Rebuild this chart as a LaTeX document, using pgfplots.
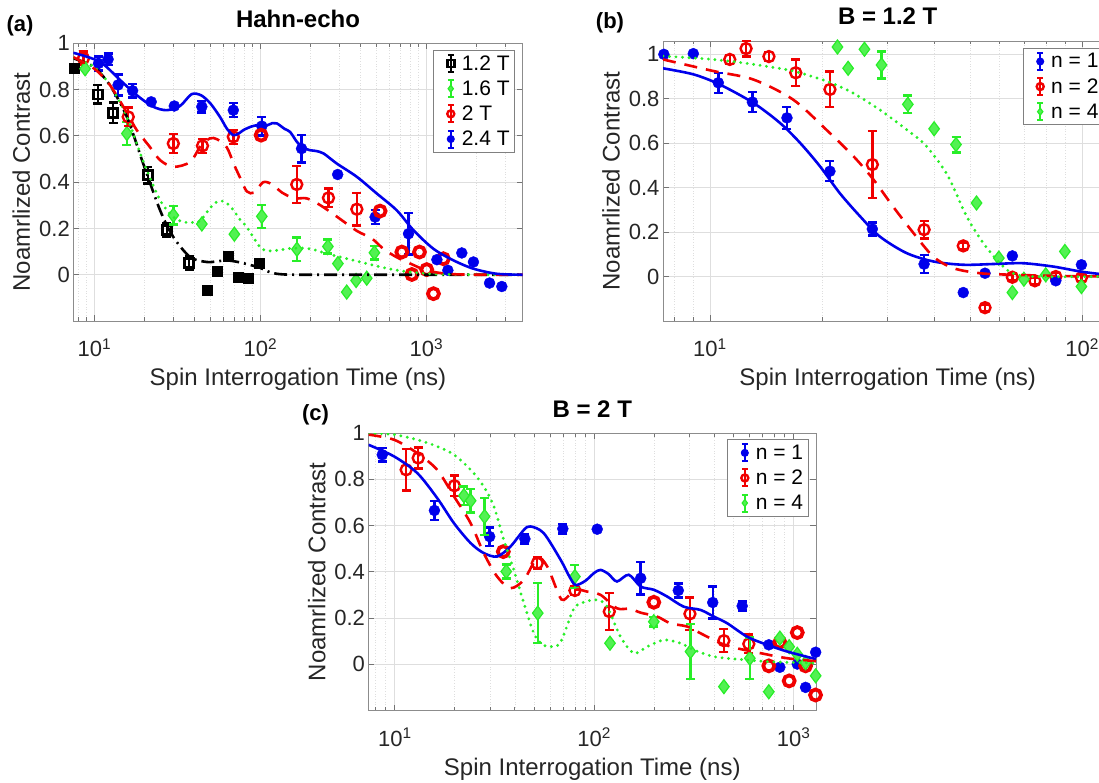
\documentclass[border=0pt]{standalone}
\usepackage{fontspec}
\setmainfont{Liberation Sans}
\usepackage{pgfplots}
\pgfplotsset{compat=1.18}
\definecolor{mblue}{RGB}{0,0,235}
\definecolor{mred}{RGB}{240,0,0}
\definecolor{mgreen}{RGB}{40,238,40}
\pgfplotsset{
  myeb/.style={only marks,
    error bars/y dir=both, error bars/y explicit,
    error bars/error bar style={line width=2.4pt},
    error bars/error mark options={rotate=90, line width=2.4pt, mark size=4.5pt}},
  mbluem/.style={color=mblue, mark=*, mark size=5.5pt},
  mredo/.style={color=mred, mark=o, mark size=5.5pt, mark options={line width=2.4pt}},
  mredf/.style={color=mred, mark=o, mark size=5.5pt, mark options={line width=3.8pt}},
  mgreend/.style={color=mgreen, mark=diamond*, mark size=7pt, mark options={fill=mgreen!80!white, draw=mgreen, line width=1.2pt}},
  mblacko/.style={color=black, mark=square, mark size=4.5pt, mark options={line width=2.6pt}},
  mblackf/.style={color=black, mark=square*, mark size=5pt},
  mbluec/.style={mblue, line width=2.6pt, smooth, no markers},
  mredc/.style={mred, line width=2.6pt, dash pattern=on 13pt off 9pt, smooth, no markers},
  mgreenc/.style={mgreen, line width=3.2pt, dash pattern=on 0pt off 6.5pt, line cap=round, smooth, no markers},
  mblackc/.style={black, line width=2.6pt, dash pattern=on 13pt off 5pt on 2pt off 5pt, smooth, no markers},
}
\begin{document}
\begin{tikzpicture}
% ---------------- (a) ----------------
\begin{axis}[at={(73.3pt,461pt)}, anchor=south west,
    xmode=log, scale only axis, width=449.4pt, height=277.7pt,
    ymin=-0.2, ymax=1,
    ytick={0,0.2,0.4,0.6,0.8,1},
    grid=both,
    major grid style={black!13, line width=0.8pt},
    minor grid style={black!13, line width=0.7pt, dotted},
    axis line style={black!45, line width=0.9pt},
    tick style={black!55, line width=0.8pt},
    major tick length=6pt, minor tick length=3.5pt,
    tick align=inside,
    ticklabel style={font=\fontsize{22}{26}\selectfont, text=black!85},
    yticklabel style={/pgf/number format/assume math mode=true},
    xticklabel style={anchor=base, yshift=-36pt},
    label style={font=\fontsize{24}{28}\selectfont, text=black!85},
    ylabel={Noamrlized Contrast},
    xlabel={Spin Interrogation Time (ns)},
    ylabel style={at={(axis description cs:-0.1157,0.5)}, anchor=center},
    xlabel style={at={(axis description cs:0.5,0)}, anchor=base, yshift=-65pt},
    title style={font=\bfseries\fontsize{24}{28}\selectfont, at={(axis description cs:0.5,1)}, anchor=base, yshift=10pt},
    clip mode=individual,
    legend cell align=left,
    legend style={draw=black!50, line width=1pt, fill=white,
      font=\fontsize{21}{24}\selectfont, inner xsep=3pt, inner ysep=3pt,
      row sep=5pt, column sep=2pt},
    legend image code/.code={
      \path[draw=none, fill=none] (0pt,-10pt) rectangle (21pt,10pt);
      \draw[#1, mark=none, solid, line width=2pt] (14pt,-8.5pt) -- (14pt,8.5pt)
        (11pt,-8.5pt) -- (17pt,-8.5pt) (11pt,8.5pt) -- (17pt,8.5pt);
      \draw[#1, mark size=3.5pt] plot coordinates {(14pt,0pt)};
    },
  xmin=7.47, xmax=3800,
  xtick={10,100,1000}, xticklabels={10\textsuperscript{1},10\textsuperscript{2},10\textsuperscript{3}},
  minor xtick={8,9,20,30,40,50,60,70,80,90,200,300,400,500,600,700,800,900,2000,3000},
  title={Hahn-echo},
  legend style={at={(axis description cs:0.801,0.976)}, anchor=north west}]
\addplot[mblacko, myeb] coordinates {(10.5,0.779) +- (0,0.04) (13.0,0.700) +- (0,0.045) (21.0,0.430) +- (0,0.035) (27.3,0.192) +- (0,0.03) (37.3,0.050) +- (0,0.03)};
\addlegendentry{1.2 T}
\addplot[mgreend, myeb] coordinates {(15.7,0.61) +- (0,0.05) (29.9,0.257) +- (0,0.04) (102,0.252) +- (0,0.05) (166,0.11) +- (0,0.05) (255,0.122) +- (0,0.03) (486,0.095) +- (0,0.03)};
\addlegendentry{1.6 T}
\addplot[mredo, myeb] coordinates {(8.6,0.935) +- (0,0.03) (16.0,0.682) +- (0,0.04) (29.9,0.567) +- (0,0.04) (44.8,0.557) +- (0,0.03) (68.7,0.596) +- (0,0.03) (165.6,0.39) +- (0,0.08) (257,0.332) +- (0,0.04) (381,0.283) +- (0,0.07)};
\addlegendentry{2 T}
\addplot[mbluem, myeb] coordinates {(10.6,0.913) +- (0,0.03) (12.1,0.931) +- (0,0.025) (13.9,0.82) +- (0,0.045) (17.0,0.795) +- (0,0.03) (44.4,0.726) +- (0,0.025) (68.7,0.711) +- (0,0.03) (102,0.642) +- (0,0.04) (177,0.545) +- (0,0.06) (491,0.249) +- (0,0.03) (780,0.177) +- (0,0.09)};
\addlegendentry{2.4 T}
\addplot[mblackf, only marks, forget plot] coordinates {(7.55,0.892) (47.5,-0.065) (54.6,0.016) (64.1,0.079) (73.6,-0.010) (83.9,-0.015) (98.6,0.048)};
\addplot[mgreend, only marks, forget plot] coordinates {(8.8,0.89) (44.4,0.219) (69.7,0.175) (293,0.048) (331,-0.075) (377,-0.025) (437,-0.015)};
\addplot[mredf, only marks, forget plot] coordinates {(101,0.603) (526,0.275) (711,0.098) (817,0.001) (908,0.098) (1004,0.022) (1102,-0.082) (1265,0.069)};
\addplot[mbluem, only marks, forget plot] coordinates {(22.0,0.747) (30.3,0.729) (292,0.433) (1156,0.065) (1346,0.019) (1633,0.094) (1919,0.055) (2399,-0.036) (2844,-0.051)};
\addplot[mblackc, forget plot] coordinates {(7.47,0.935) (9.86,0.899) (12.4,0.819) (15.7,0.682) (19.7,0.48) (24.9,0.278) (29.9,0.163) (37.8,0.076) (47.5,0.055) (55,0.058) (62.8,0.062) (72,0.056) (82.8,0.046) (99.5,0.030) (112,0.013) (125.6,0.004) (160,0.0) (400,0) (3800,0)};
\addplot[mgreenc, forget plot] coordinates {(7.47,0.935) (9.86,0.9) (12.4,0.82) (15.7,0.682) (19.7,0.49) (24.9,0.322) (29.9,0.249) (34.4,0.228) (39,0.226) (43.3,0.232) (50,0.29) (55.8,0.318) (62,0.312) (68.7,0.28) (75,0.24) (82.8,0.206) (99.5,0.119) (112,0.103) (125.6,0.105) (150,0.113) (180,0.115) (210,0.108) (251,0.091) (330,0.07) (437,0.048) (600,0.025) (836,0.01) (1200,0.002) (2000,0) (3800,0)};
\addplot[mredc, forget plot] coordinates {(7.47,0.94) (10,0.89) (12.4,0.82) (15.7,0.70) (18,0.625) (21.6,0.552) (24.9,0.495) (29.9,0.466) (37.8,0.487) (43.3,0.552) (49.6,0.589) (55,0.585) (62.8,0.55) (69,0.48) (75.4,0.42) (82.8,0.36) (92,0.355) (104,0.40) (118,0.39) (135,0.355) (160,0.33) (190,0.33) (230,0.30) (290,0.25) (380,0.19) (470,0.156) (550,0.112) (660,0.076) (800,0.048) (1000,0.019) (1330,0.004) (2000,0) (3800,0)};
\addplot[mbluec, forget plot] coordinates {(7.47,0.959) (10.8,0.92) (14.3,0.841) (18,0.776) (22.6,0.726) (27.3,0.711) (32.8,0.729) (38.5,0.78) (44,0.775) (50,0.74) (57.1,0.682) (63,0.63) (68.7,0.603) (74,0.61) (79,0.625) (88,0.64) (95,0.646) (102,0.652) (109,0.645) (118,0.655) (125.6,0.654) (140,0.63) (151,0.617) (166,0.574) (180,0.55) (199,0.538) (215,0.535) (240,0.524) (289,0.48) (381,0.423) (502,0.351) (663,0.278) (836,0.192) (1102,0.112) (1455,0.062) (1919,0.026) (2655,0.004) (3800,0)};
\end{axis}
% ---------------- (b) ----------------
\begin{axis}[at={(663pt,461pt)}, anchor=south west,
    xmode=log, scale only axis, width=449.4pt, height=280pt,
    ymin=-0.2, ymax=1.06,
    ytick={0,0.2,0.4,0.6,0.8,1},
    grid=both,
    major grid style={black!13, line width=0.8pt},
    minor grid style={black!13, line width=0.7pt, dotted},
    axis line style={black!45, line width=0.9pt},
    tick style={black!55, line width=0.8pt},
    major tick length=6pt, minor tick length=3.5pt,
    tick align=inside,
    ticklabel style={font=\fontsize{22}{26}\selectfont, text=black!85},
    yticklabel style={/pgf/number format/assume math mode=true},
    xticklabel style={anchor=base, yshift=-36pt},
    label style={font=\fontsize{24}{28}\selectfont, text=black!85},
    ylabel={Noamrlized Contrast},
    xlabel={Spin Interrogation Time (ns)},
    ylabel style={at={(axis description cs:-0.1157,0.5)}, anchor=center},
    xlabel style={at={(axis description cs:0.5,0)}, anchor=base, yshift=-65pt},
    title style={font=\bfseries\fontsize{24}{28}\selectfont, at={(axis description cs:0.5,1)}, anchor=base, yshift=10pt},
    clip mode=individual,
    legend cell align=left,
    legend style={draw=black!50, line width=1pt, fill=white,
      font=\fontsize{21}{24}\selectfont, inner xsep=3pt, inner ysep=3pt,
      row sep=5pt, column sep=2pt},
    legend image code/.code={
      \path[draw=none, fill=none] (0pt,-10pt) rectangle (21pt,10pt);
      \draw[#1, mark=none, solid, line width=2pt] (14pt,-8.5pt) -- (14pt,8.5pt)
        (11pt,-8.5pt) -- (17pt,-8.5pt) (11pt,8.5pt) -- (17pt,8.5pt);
      \draw[#1, mark size=3.5pt] plot coordinates {(14pt,0pt)};
    },
  xmin=7.48, xmax=120.5,
  xtick={10,100}, xticklabels={10\textsuperscript{1},10\textsuperscript{2}},
  minor xtick={8,9,20,30,40,50,60,70,80,90},
  title={B = 1.2 T},
  legend style={at={(axis description cs:0.8004,0.975)}, anchor=north west}]
\addplot[mbluem, myeb] coordinates {(10.53,0.872) +- (0,0.045) (13.0,0.785) +- (0,0.045) (16.1,0.714) +- (0,0.05) (21.0,0.474) +- (0,0.045) (27.3,0.214) +- (0,0.03) (37.6,0.056) +- (0,0.04)};
\addlegendentry{n = 1}
\addplot[mredo, myeb] coordinates {(11.3,0.977) +- (0,0.02) (12.5,1.026) +- (0,0.035) (14.4,0.99) +- (0,0.02) (17.0,0.917) +- (0,0.06) (21.0,0.842) +- (0,0.08) (27.3,0.504) +- (0,0.15) (37.6,0.211) +- (0,0.04) (47.9,0.138) +- (0,0.015) (54.8,-0.14) +- (0,0.015) (64.9,-0.003) +- (0,0.015) (74.6,-0.019) +- (0,0.015) (84.9,0.0) +- (0,0.015) (99.5,-0.005) +- (0,0.015)};
\addlegendentry{n = 2}
\addplot[mgreend, myeb] coordinates {(28.9,0.952) +- (0,0.06) (34.0,0.775) +- (0,0.04) (45.8,0.594) +- (0,0.035)};
\addlegendentry{n = 4}
\addplot[mbluem, only marks, forget plot] coordinates {(7.52,1.0) (9.02,1.003) (47.9,-0.072) (54.8,0.015) (64.9,0.093) (84.9,-0.019) (99.5,0.053)};
\addplot[mgreend, only marks, forget plot] coordinates {(22.0,1.033) (23.5,0.937) (26.0,1.023) (40.0,0.665) (52.0,0.331) (59.7,0.083) (64.9,-0.072) (69.7,-0.012) (79.8,0.008) (89.8,0.113) (99.5,-0.045)};
\addplot[mbluec, forget plot] coordinates {(7.48,0.937) (9.02,0.91) (10.6,0.865) (13.06,0.782) (15.4,0.692) (17.45,0.602) (19.75,0.496) (22.3,0.376) (25.3,0.271) (28.6,0.18) (33.7,0.106) (39.8,0.068) (47.9,0.053) (58.9,0.057) (69.4,0.06) (83.5,0.045) (98.6,0.023) (111,0.012) (120.5,0.008)};
\addplot[mredc, forget plot] coordinates {(7.48,0.977) (10.2,0.925) (13.06,0.887) (16.7,0.797) (20.5,0.662) (24.3,0.541) (27.5,0.436) (31,0.316) (35.2,0.196) (39.8,0.09) (45,0.038) (53.1,0.015) (65,0.008) (90,0.002) (120.5,0.0)};
\addplot[mgreenc, forget plot] coordinates {(7.48,0.992) (10.2,0.977) (13.06,0.955) (16.7,0.925) (20.5,0.88) (22.3,0.855) (24.3,0.825) (28.6,0.75) (33.7,0.662) (37.4,0.602) (41,0.52) (44.1,0.436) (48.9,0.271) (54.2,0.151) (60.1,0.06) (65,0.015) (74,0.0) (120.5,0.0)};
\end{axis}
% ---------------- (c) ----------------
\begin{axis}[at={(368.5pt,71.5pt)}, anchor=south west,
    xmode=log, scale only axis, width=447.5pt, height=277.5pt,
    ymin=-0.2, ymax=1,
    ytick={0,0.2,0.4,0.6,0.8,1},
    grid=both,
    major grid style={black!13, line width=0.8pt},
    minor grid style={black!13, line width=0.7pt, dotted},
    axis line style={black!45, line width=0.9pt},
    tick style={black!55, line width=0.8pt},
    major tick length=6pt, minor tick length=3.5pt,
    tick align=inside,
    ticklabel style={font=\fontsize{22}{26}\selectfont, text=black!85},
    yticklabel style={/pgf/number format/assume math mode=true},
    xticklabel style={anchor=base, yshift=-36pt},
    label style={font=\fontsize{24}{28}\selectfont, text=black!85},
    ylabel={Noamrlized Contrast},
    xlabel={Spin Interrogation Time (ns)},
    ylabel style={at={(axis description cs:-0.1157,0.5)}, anchor=center},
    xlabel style={at={(axis description cs:0.5,0)}, anchor=base, yshift=-65pt},
    title style={font=\bfseries\fontsize{24}{28}\selectfont, at={(axis description cs:0.5,1)}, anchor=base, yshift=10pt},
    clip mode=individual,
    legend cell align=left,
    legend style={draw=black!50, line width=1pt, fill=white,
      font=\fontsize{21}{24}\selectfont, inner xsep=3pt, inner ysep=3pt,
      row sep=5pt, column sep=2pt},
    legend image code/.code={
      \path[draw=none, fill=none] (0pt,-10pt) rectangle (21pt,10pt);
      \draw[#1, mark=none, solid, line width=2pt] (14pt,-8.5pt) -- (14pt,8.5pt)
        (11pt,-8.5pt) -- (17pt,-8.5pt) (11pt,8.5pt) -- (17pt,8.5pt);
      \draw[#1, mark size=3.5pt] plot coordinates {(14pt,0pt)};
    },
  xmin=7.38, xmax=1295,
  xtick={10,100,1000}, xticklabels={10\textsuperscript{1},10\textsuperscript{2},10\textsuperscript{3}},
  minor xtick={8,9,20,30,40,50,60,70,80,90,200,300,400,500,600,700,800,900},
  title={B = 2 T},
  legend style={at={(axis description cs:0.8018,0.977)}, anchor=north west}]
\addplot[mbluem, myeb] coordinates {(8.65,0.906) +- (0,0.03) (15.8,0.665) +- (0,0.04) (29.9,0.552) +- (0,0.04) (44.9,0.542) +- (0,0.02) (69.6,0.586) +- (0,0.02) (171,0.372) +- (0,0.07) (264,0.319) +- (0,0.03) (393,0.267) +- (0,0.07) (552,0.252) +- (0,0.02)};
\addlegendentry{n = 1}
\addplot[mredo, myeb] coordinates {(11.4,0.841) +- (0,0.09) (13.1,0.892) +- (0,0.045) (19.9,0.772) +- (0,0.045) (51.8,0.437) +- (0,0.025) (80,0.319) +- (0,0.02) (119,0.228) +- (0,0.08) (302,0.218) +- (0,0.07) (447,0.102) +- (0,0.05) (596,0.088) +- (0,0.04)};
\addlegendentry{n = 2}
\addplot[mgreend, myeb] coordinates {(22.2,0.729) +- (0,0.04) (24.0,0.707) +- (0,0.05) (28.2,0.639) +- (0,0.08) (36.2,0.401) +- (0,0.03) (52.1,0.221) +- (0,0.13) (80,0.379) +- (0,0.05) (199,0.184) +- (0,0.02) (304,0.055) +- (0,0.12) (603,0.026) +- (0,0.09)};
\addlegendentry{n = 4}
\addplot[mbluem, only marks, forget plot] coordinates {(103.5,0.584) (751,0.084) (853,-0.013) (1043,0.001) (1148,-0.1) (1290,0.052)};
\addplot[mredf, only marks, forget plot] coordinates {(35.0,0.487) (199,0.268) (751,-0.007) (853,0.095) (950,-0.072) (1043,0.137) (1148,-0.007) (1288,-0.133)};
\addplot[mgreend, only marks, forget plot] coordinates {(120,0.091) (447,-0.097) (751,-0.119) (853,0.113) (950,0.076) (1043,0.043) (1148,0.007) (1290,-0.05)};
\addplot[mbluec, forget plot] coordinates {(7.38,0.949) (9.9,0.899) (12.95,0.827) (16.3,0.719) (19.8,0.61) (24.0,0.524) (27.9,0.481) (32.6,0.466) (38,0.509) (44.4,0.581) (47.9,0.596) (55.8,0.567) (67.8,0.452) (75,0.38) (80.5,0.343) (90,0.36) (100,0.395) (107.6,0.408) (118,0.39) (130,0.358) (149,0.387) (171,0.336) (199,0.322) (232,0.293) (281,0.249) (341,0.235) (398,0.206) (465,0.177) (585,0.119) (737,0.084) (929,0.055) (1295,0.022)};
\addplot[mredc, forget plot] coordinates {(7.38,0.993) (9.9,0.971) (12.95,0.913) (16.3,0.841) (19.8,0.726) (24,0.61) (27.9,0.481) (32.6,0.379) (38,0.329) (44.4,0.365) (51.8,0.46) (58.1,0.423) (66.5,0.3) (70.4,0.278) (80.5,0.322) (92.3,0.314) (107.6,0.3) (130,0.242) (151,0.24) (171,0.223) (207,0.206) (241,0.177) (293,0.163) (341,0.134) (430,0.091) (521,0.069) (682,0.048) (929,0.026) (1295,0.013)};
\addplot[mgreenc, forget plot] coordinates {(7.38,1.0) (9.9,0.993) (12.95,0.971) (16.3,0.942) (19.8,0.906) (24,0.841) (27.9,0.769) (31.4,0.682) (35.2,0.538) (39.5,0.408) (44.4,0.264) (49.8,0.134) (55,0.085) (60.4,0.076) (67.8,0.095) (79,0.24) (90,0.27) (103.5,0.278) (116,0.249) (135.5,0.119) (158,0.048) (184.4,0.076) (223,0.105) (271,0.091) (316,0.062) (398,0.033) (521,0.022) (766,0.011) (1295,0.005)};
\end{axis}
\node[font=\bfseries\fontsize{22}{26}\selectfont, anchor=base] at (20pt,750pt) {(a)};
\node[font=\bfseries\fontsize{22}{26}\selectfont, anchor=base] at (610pt,753pt) {(b)};
\node[font=\bfseries\fontsize{22}{26}\selectfont, anchor=base] at (315.5pt,361pt) {(c)};
\pgfresetboundingbox
\clip (0pt,0pt) rectangle (1099pt,782pt);
\useasboundingbox (0pt,0pt) rectangle (1099pt,782pt);
\end{tikzpicture}
\end{document}
